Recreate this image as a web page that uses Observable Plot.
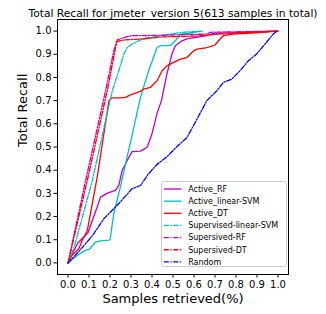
<!DOCTYPE html>
<html>
<head>
<meta charset="utf-8">
<script src="https://cdn.jsdelivr.net/npm/d3@7"></script>
<script src="https://cdn.jsdelivr.net/npm/@observablehq/plot@0.6"></script>
<style>
  body { margin: 0; background: white; }
  #wrap { position: relative; width: 326px; height: 314px; font-family: "DejaVu Sans", sans-serif; }
  #legend { position: absolute; left: 160.5px; top: 181px; width: 126px; height: 86px;
    border: 1px solid #cccccc; border-radius: 3px; background: rgba(255,255,255,0.85); box-sizing: border-box; }
</style>
</head>
<body>
<div id="wrap"></div>
<script>
const title = "Total Recall for jmeter_version 5(613 samples in total)";
const xLabel = "Samples retrieved(%)";
const yLabel = "Total Recall";
const xTicks = [0, 0.1, 0.2, 0.3, 0.4, 0.5, 0.6, 0.7, 0.8, 0.9, 1.0];
const yTicks = [0, 0.1, 0.2, 0.3, 0.4, 0.5, 0.6, 0.7, 0.8, 0.9, 1.0];

const seriesNames = ["Active_RF", "Active_linear-SVM", "Active_DT", "Supervised-linear-SVM", "Supersived-RF", "Supersived-DT", "Random"];
const seriesColors = ["#bf00bf", "#00bfbf", "#ff0000", "#00bfbf", "#bf00bf", "#ff0000", "#0000ff"];
const seriesDashed = [false, false, false, true, true, true, true];

const activeRF_x = [0, 0.02, 0.047, 0.095, 0.139, 0.155, 0.187, 0.226, 0.242, 0.258, 0.282, 0.305, 0.345, 0.377, 0.40, 0.424, 0.445, 0.471, 0.495, 0.511, 0.543, 0.566, 0.661, 0.693, 0.8, 1.0];
const activeRF_y = [0, 0.04, 0.086, 0.13, 0.241, 0.284, 0.301, 0.313, 0.334, 0.399, 0.442, 0.48, 0.482, 0.499, 0.557, 0.645, 0.70, 0.815, 0.901, 0.937, 0.958, 0.966, 0.98, 0.99, 0.993, 1.0];

const activeSVM_x = [0, 0.045, 0.084, 0.1, 0.131, 0.155, 0.195, 0.2, 0.218, 0.25, 0.282, 0.305, 0.345, 0.384, 0.424, 0.44, 0.487, 0.511, 0.535, 0.598, 0.64];
const activeSVM_y = [0, 0.033, 0.055, 0.058, 0.09, 0.095, 0.098, 0.10, 0.213, 0.33, 0.46, 0.55, 0.714, 0.829, 0.929, 0.937, 0.937, 0.958, 0.987, 0.994, 1.0];

const activeDT_x = [0, 0.02, 0.052, 0.068, 0.092, 0.139, 0.195, 0.211, 0.25, 0.274, 0.297, 0.345, 0.361, 0.392, 0.424, 0.448, 0.471, 0.503, 0.535, 0.566, 0.598, 0.614, 0.661, 0.70, 0.724, 0.74, 0.787, 0.914, 0.993];
const activeDT_y = [0, 0.033, 0.062, 0.098, 0.14, 0.37, 0.70, 0.712, 0.712, 0.714, 0.725, 0.74, 0.75, 0.757, 0.786, 0.829, 0.85, 0.865, 0.879, 0.886, 0.915, 0.922, 0.929, 0.94, 0.966, 0.98, 0.987, 0.994, 1.0];

const supSVM_x = [0, 0.03, 0.116, 0.158, 0.211, 0.242, 0.266, 0.282, 0.305, 0.345, 0.384, 0.44, 0.535, 0.63];
const supSVM_y = [0, 0.07, 0.356, 0.528, 0.743, 0.83, 0.901, 0.929, 0.944, 0.962, 0.972, 0.98, 0.994, 1.0];

const supRF_x = [0, 0.084, 0.179, 0.218, 0.235, 0.266, 0.30, 0.45, 0.55, 0.66, 0.68, 0.8, 1.0];
const supRF_y = [0, 0.356, 0.743, 0.915, 0.962, 0.972, 0.98, 0.982, 0.985, 0.987, 0.995, 0.997, 1.0];

const supDT_x = [0, 0.092, 0.187, 0.232, 0.27, 0.35, 0.45, 0.6, 0.724, 0.85, 1.0];
const supDT_y = [0, 0.356, 0.743, 0.955, 0.962, 0.966, 0.975, 0.978, 0.987, 0.994, 1.0];

const random_x = [0, 0.028, 0.052, 0.1, 0.123, 0.171, 0.242, 0.305, 0.345, 0.384, 0.424, 0.471, 0.519, 0.566, 0.614, 0.661, 0.709, 0.74, 0.78, 0.819, 0.859, 0.898, 0.938, 0.977, 0.996];
const random_y = [0, 0.026, 0.05, 0.1, 0.126, 0.191, 0.256, 0.32, 0.334, 0.385, 0.425, 0.458, 0.502, 0.54, 0.62, 0.70, 0.743, 0.779, 0.793, 0.829, 0.872, 0.901, 0.944, 0.987, 1.0];

const seriesX = [activeRF_x, activeSVM_x, activeDT_x, supSVM_x, supRF_x, supDT_x, random_x];
const seriesY = [activeRF_y, activeSVM_y, activeDT_y, supSVM_y, supRF_y, supDT_y, random_y];

const DASH = "5,1.6,1.2,1.6";
const LW = 1.3;

const lineMarks = seriesNames.map((name, i) => {
  const rows = seriesX[i].map((x, j) => ({x, y: seriesY[i][j], name}));
  return Plot.line(rows, {x: "x", y: "y", stroke: seriesColors[i], strokeWidth: LW,
    strokeDasharray: seriesDashed[i] ? DASH : null});
});

const chart = Plot.plot({
  width: 326, height: 314,
  marginLeft: 57, marginRight: 38, marginTop: 19, marginBottom: 40,
  style: {fontFamily: "DejaVu Sans, sans-serif", background: "white", color: "black", overflow: "visible"},
  x: {domain: [-0.05, 1.05]},
  y: {domain: [-0.05, 1.05]},
  marks: [
    ...lineMarks,
    Plot.frame({stroke: "black", strokeWidth: 1}),
    Plot.axisX({ticks: xTicks, tickFormat: d => d.toFixed(1), tickSize: 3.5, tickPadding: 2.5, fontSize: 10, label: null}),
    Plot.axisY({ticks: yTicks, tickFormat: d => d.toFixed(1), tickSize: 3.5, tickPadding: 2.5, fontSize: 10, label: null}),
    Plot.text([title], {text: d => d, frameAnchor: "top", dy: -10.5, fontSize: 10.7, fontWeight: "normal"}),
    Plot.text([xLabel], {text: d => d, frameAnchor: "bottom", dy: 28, fontSize: 13}),
    Plot.text([yLabel], {text: d => d, frameAnchor: "left", dx: -35, rotate: -90, fontSize: 13})
  ]
});

const wrap = document.getElementById("wrap");
wrap.appendChild(chart);

// legend
const legend = d3.select(wrap).append("div").attr("id", "legend");
const lsvg = legend.append("svg").attr("width", 126).attr("height", 86).style("position", "absolute").style("left", "-1px").style("top", "-1px");
seriesNames.forEach((name, i) => {
  const cy = 8 + i * 12.15;
  lsvg.append("line").attr("x1", 2.8).attr("x2", 20.5).attr("y1", cy).attr("y2", cy)
    .attr("stroke", seriesColors[i]).attr("stroke-width", LW)
    .attr("stroke-dasharray", seriesDashed[i] ? DASH : null);
  lsvg.append("text").attr("x", 27.2).attr("y", cy).attr("dy", "0.35em")
    .attr("font-size", 8).attr("font-family", "DejaVu Sans, sans-serif").attr("fill", "black").text(name);
});
</script>
</body>
</html>
